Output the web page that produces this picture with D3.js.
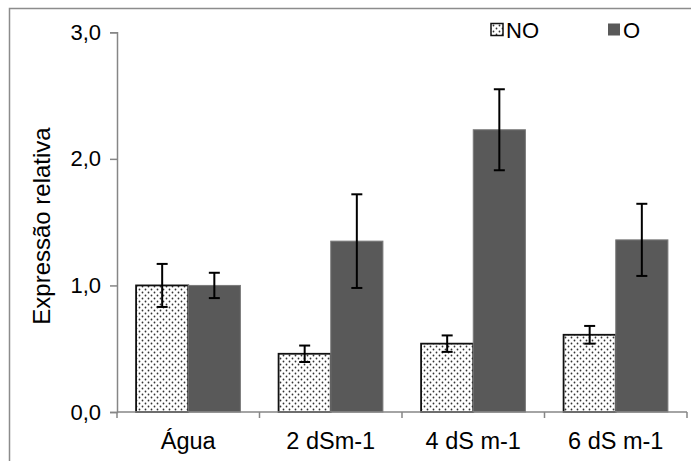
<!DOCTYPE html>
<html>
<head>
<meta charset="utf-8">
<script src="https://cdn.jsdelivr.net/npm/d3@7"></script>
<style>
  html, body { margin: 0; padding: 0; background: #fff; }
  svg { display: block; font-family: "Liberation Sans", Arial, sans-serif; }
</style>
</head>
<body>
<svg id="chart" width="691" height="461"></svg>
<script>
// Categories and series
const categories = ["Água", "2 dSm-1", "4 dS m-1", "6 dS m-1"];
const seriesNames = ["NO", "O"];
const valuesNO = [1.00, 0.46, 0.54, 0.61];
const errorsNO = [0.17, 0.065, 0.065, 0.07];
const valuesO = [1.00, 1.35, 2.23, 1.36];
const errorsO = [0.10, 0.37, 0.32, 0.285];
const yTicks = [0, 1, 2, 3];

const svg = d3.select("#chart");
const margin = { left: 117 };
const tickFont = 22;
const catFont = 23.5;
const titleFont = 24;

// Outer frame
svg.append("rect")
  .attr("x", 9.5).attr("y", 8.5)
  .attr("width", 700).attr("height", 500)
  .attr("fill", "none").attr("stroke", "#8c8c8c").attr("stroke-width", 1.5);

// Dotted fill for NO bars
const defs = svg.append("defs");
const pat = defs.append("pattern")
  .attr("id", "dots").attr("patternUnits", "userSpaceOnUse")
  .attr("width", 6).attr("height", 6);
pat.append("rect").attr("width", 6).attr("height", 6).attr("fill", "#fff");
pat.append("circle").attr("cx", 1.5).attr("cy", 1.5).attr("r", 0.9).attr("fill", "#333");
pat.append("circle").attr("cx", 4.5).attr("cy", 4.5).attr("r", 0.9).attr("fill", "#333");

const x0 = d3.scaleBand()
  .domain(categories)
  .range([margin.left, 687])
  .paddingInner(0).paddingOuter(0);

const x1 = d3.scaleBand()
  .domain(seriesNames)
  .range([0, x0.bandwidth()])
  .paddingOuter(0.366).paddingInner(0);

const y = d3.scaleLinear()
  .domain([0, 3])
  .range([412, 32.3]);

const rows = categories.map((c, i) => [
  { cat: c, s: "NO", v: valuesNO[i], e: errorsNO[i] },
  { cat: c, s: "O", v: valuesO[i], e: errorsO[i] }
]).flat();

// Bars
svg.append("g").selectAll("rect")
  .data(rows).join("rect")
  .attr("x", d => x0(d.cat) + x1(d.s))
  .attr("y", d => y(d.v))
  .attr("width", x1.bandwidth())
  .attr("height", d => y(0) - y(d.v))
  .attr("fill", d => d.s === "NO" ? "url(#dots)" : "#595959")
  .attr("stroke", d => d.s === "NO" ? "#111" : "#7a7a7a")
  .attr("stroke-width", d => d.s === "NO" ? 1.8 : 1);

// Error bars
const eb = svg.append("g").attr("stroke", "#000").attr("stroke-width", 2);
rows.forEach(d => {
  const cx = x0(d.cat) + x1(d.s) + x1.bandwidth() / 2;
  eb.append("line").attr("x1", cx).attr("x2", cx)
    .attr("y1", y(d.v + d.e)).attr("y2", y(d.v - d.e));
  [d.v + d.e, d.v - d.e].forEach(v => {
    eb.append("line").attr("x1", cx - 5.5).attr("x2", cx + 5.5)
      .attr("y1", y(v)).attr("y2", y(v));
  });
});

// Y axis
const yAxis = svg.append("g")
  .attr("transform", `translate(${margin.left},0)`)
  .call(d3.axisLeft(y).tickValues(yTicks).tickSize(7).tickPadding(9)
    .tickFormat(d => d3.format(".1f")(d).replace(".", ",")));
yAxis.select(".domain").attr("stroke", "#868686").attr("stroke-width", 1.5);
yAxis.selectAll(".tick line").attr("stroke", "#868686").attr("stroke-width", 1.5);
yAxis.selectAll(".tick text").attr("font-size", tickFont).attr("fill", "#000")
  .attr("font-family", "Liberation Sans, Arial, sans-serif");

// X axis with ticks at category boundaries
const xg = svg.append("g").attr("transform", `translate(0,${y(0)})`);
xg.append("line").attr("x1", margin.left).attr("x2", 687)
  .attr("stroke", "#868686").attr("stroke-width", 1.5);
const bounds = categories.map(c => x0(c)).concat([x0(categories[categories.length - 1]) + x0.bandwidth()]);
xg.selectAll("line.tk").data(bounds).join("line").attr("class", "tk")
  .attr("x1", d => d).attr("x2", d => d).attr("y1", 0).attr("y2", 6)
  .attr("stroke", "#868686").attr("stroke-width", 1.5);
xg.selectAll("text").data(categories).join("text")
  .attr("x", d => x0(d) + x0.bandwidth() / 2)
  .attr("y", 37)
  .attr("text-anchor", "middle")
  .attr("font-size", catFont).attr("fill", "#000")
  .text(d => d);

// Y axis title
svg.append("text")
  .attr("transform", "translate(50,226) rotate(-90)")
  .attr("text-anchor", "middle")
  .attr("font-size", titleFont).attr("fill", "#000")
  .text("Expressão relativa");

// Legend
const legend = svg.append("g");
const legendItems = [
  { s: "NO", x: 491, fill: "url(#dots)", stroke: "#111" },
  { s: "O", x: 608, fill: "#595959", stroke: "none" }
];
legendItems.forEach(it => {
  legend.append("rect").attr("x", it.x).attr("y", 23.5)
    .attr("width", 12).attr("height", 12)
    .attr("fill", it.fill).attr("stroke", it.stroke).attr("stroke-width", 1.5);
  legend.append("text").attr("x", it.x + 15).attr("y", 38)
    .attr("font-size", tickFont).attr("fill", "#000").text(it.s);
});
</script>
</body>
</html>
